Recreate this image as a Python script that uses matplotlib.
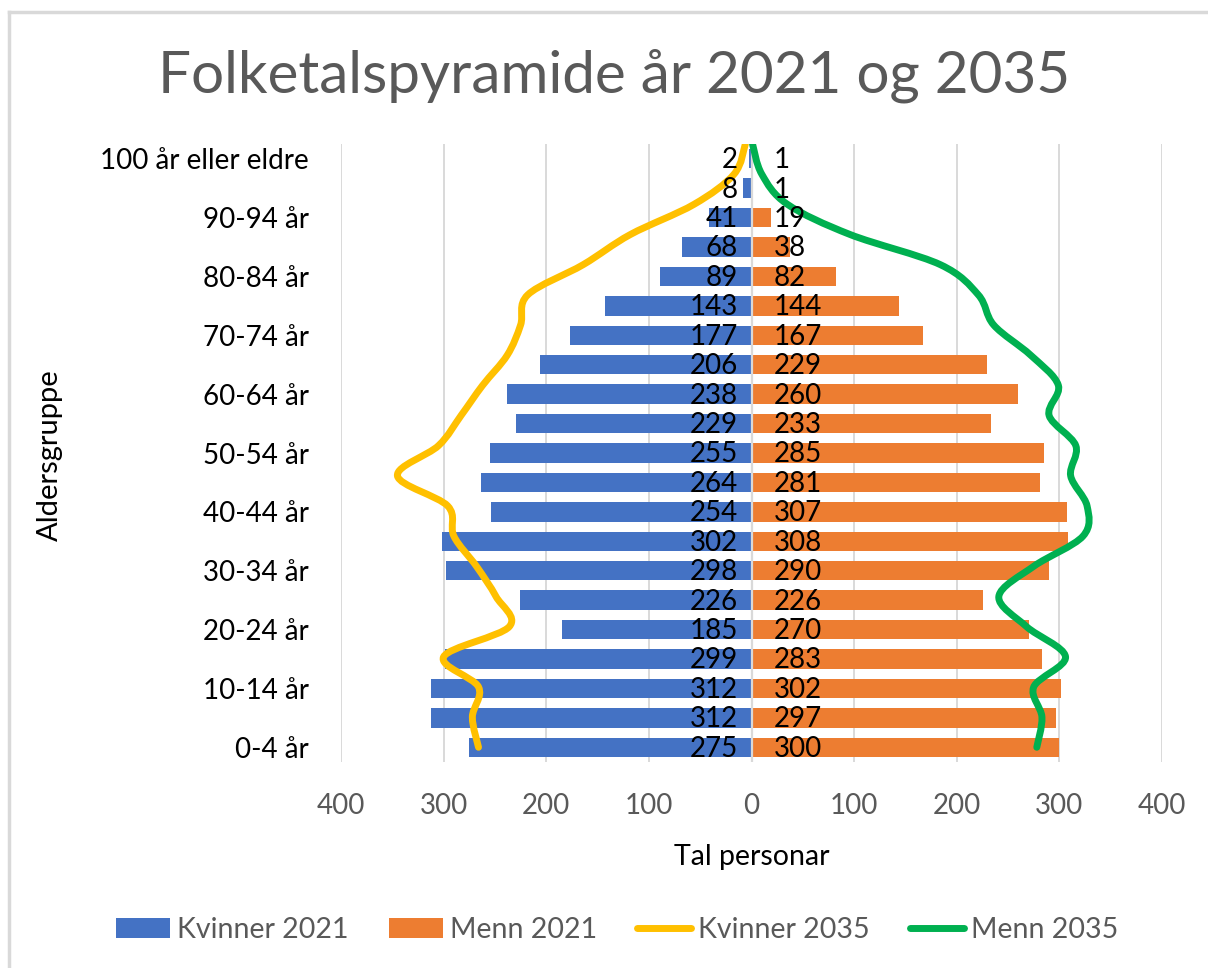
import matplotlib
matplotlib.use("Agg")
import matplotlib.pyplot as plt
from matplotlib.path import Path
from matplotlib.patches import PathPatch, Patch
from matplotlib.lines import Line2D
from matplotlib.ticker import FuncFormatter

plt.rcParams['font.family'] = ['Lato', 'DejaVu Sans']

# age groups, bottom to top
groups = ['0-4 år', '5-9 år', '10-14 år', '15-19 år', '20-24 år', '25-29 år',
          '30-34 år', '35-39 år', '40-44 år', '45-49 år', '50-54 år', '55-59 år',
          '60-64 år', '65-69 år', '70-74 år', '75-79 år', '80-84 år', '85-89 år',
          '90-94 år', '95-99 år', '100 år eller eldre']

kvinner_2021 = [275, 312, 312, 299, 185, 226, 298, 302, 254, 264, 255,
                229, 238, 206, 177, 143, 89, 68, 41, 8, 2]
menn_2021 = [300, 297, 302, 283, 270, 226, 290, 308, 307, 281, 285,
             233, 260, 229, 167, 144, 82, 38, 19, 1, 1]
kvinner_2035 = [266, 272, 266, 300, 236, 249, 268, 290, 296, 345, 305,
                283, 262, 238, 225, 218, 164, 118, 56, 17, 6]
menn_2035 = [278, 283, 275, 306, 268, 241, 275, 323, 327, 311, 316,
             290, 299, 272, 236, 221, 184, 96, 35, 10, 1]

BLUE = '#4472C4'
ORANGE = '#ED7D31'
YELLOW = '#FFC000'
GREEN = '#00B050'
GREY = '#595959'


def smooth_path(xs, ys):
    # Excel style smoothed line: Catmull-Rom segments drawn as cubic Bezier
    pts = list(zip(xs, ys))
    n = len(pts)
    verts = [pts[0]]
    codes = [Path.MOVETO]
    for i in range(n - 1):
        p0 = pts[i - 1] if i > 0 else pts[i]
        p1 = pts[i]
        p2 = pts[i + 1]
        p3 = pts[i + 2] if i + 2 < n else pts[i + 1]
        c1 = (p1[0] + (p2[0] - p0[0]) / 6, p1[1] + (p2[1] - p0[1]) / 6)
        c2 = (p2[0] - (p3[0] - p1[0]) / 6, p2[1] - (p3[1] - p1[1]) / 6)
        verts += [c1, c2, p2]
        codes += [Path.CURVE4] * 3
    return Path(verts, codes)


fig = plt.figure(figsize=(12.08, 9.68), dpi=100)
W, H = 1208, 968
ax = fig.add_axes([341 / W, 1 - 762 / H, (1162 - 341) / W, (762 - 144) / H])

pos = list(range(len(groups)))
ax.barh(pos, [-v for v in kvinner_2021], height=0.66, color=BLUE, zorder=2)
ax.barh(pos, menn_2021, height=0.66, color=ORANGE, zorder=2)

ax.set_xlim(-400, 400)
ax.set_ylim(-0.5, len(groups) - 0.5)
ax.set_xticks(range(-400, 401, 100))
ax.xaxis.set_major_formatter(FuncFormatter(lambda v, p: f'{abs(int(v))}'))
ax.set_yticks(pos[::2])
ax.set_yticklabels(groups[::2])
ax.tick_params(axis='x', length=0, pad=22, labelsize=20, labelcolor=GREY)
ax.tick_params(axis='y', length=0, pad=23, labelsize=20, labelcolor='#000000')
ax.grid(axis='x', color='#D9D9D9', linewidth=1.4, zorder=0)
ax.set_axisbelow(True)
for s in ax.spines.values():
    s.set_visible(False)
ax.axvline(0, color='#D9D9D9', linewidth=1.6, zorder=3)

ax.set_xlabel('Tal personar', fontsize=20.5, labelpad=18, color='#000000')
ax.set_ylabel('Aldersgruppe', fontsize=21, color='#000000')
ax.yaxis.set_label_coords(-(341 - 63) / (1162 - 341), (762 - 455) / (762 - 144))

# secondary axis for the 2035 lines
ax2 = ax.twinx()
ax2.set_ylim(-20 / 41, len(groups) - 1)
ax2.set_xlim(-400, 400)
ax2.axis('off')
ax2.add_patch(PathPatch(smooth_path([-v for v in kvinner_2035], pos), fill=False,
                        edgecolor=YELLOW, linewidth=5, capstyle='round',
                        joinstyle='round', zorder=3))
ax2.add_patch(PathPatch(smooth_path(menn_2035, pos), fill=False,
                        edgecolor=GREEN, linewidth=5, capstyle='round',
                        joinstyle='round', zorder=3))

# data labels on top of everything
for i in pos:
    ax2.annotate(str(kvinner_2021[i]), xy=(0, i), xycoords=ax.transData,
                 xytext=(-10, -1), textcoords='offset points',
                 ha='right', va='center', fontsize=20, color='#000000', zorder=5)
    ax2.annotate(str(menn_2021[i]), xy=(0, i), xycoords=ax.transData,
                 xytext=(16, -1), textcoords='offset points',
                 ha='left', va='center', fontsize=20, color='#000000', zorder=5)

fig.text(614 / W, 1 - 76 / H, 'Folketalspyramide år 2021 og 2035',
         ha='center', va='center', fontsize=42, color=GREY)

handles = [Patch(facecolor=BLUE), Patch(facecolor=ORANGE),
           Line2D([], [], color=YELLOW, linewidth=5, solid_capstyle='round'),
           Line2D([], [], color=GREEN, linewidth=5, solid_capstyle='round')]
labels = ['Kvinner 2021', 'Menn 2021', 'Kvinner 2035', 'Menn 2035']
leg = fig.legend(handles, labels, loc='center', bbox_to_anchor=(617 / W, 1 - 930 / H),
                 ncol=4, frameon=False, fontsize=20.5, handlelength=1.9,
                 handleheight=0.7, handletextpad=0.25, columnspacing=1.4)
for t in leg.get_texts():
    t.set_color(GREY)

# chart border (left and top edges visible)
fig.add_artist(Line2D([9 / W, 9 / W], [0, 1 - 12 / H], color='#D9D9D9', linewidth=2.5))
fig.add_artist(Line2D([9 / W, 1], [1 - 12 / H, 1 - 12 / H], color='#D9D9D9', linewidth=2.5))

fig.savefig('out.png', dpi=100)
